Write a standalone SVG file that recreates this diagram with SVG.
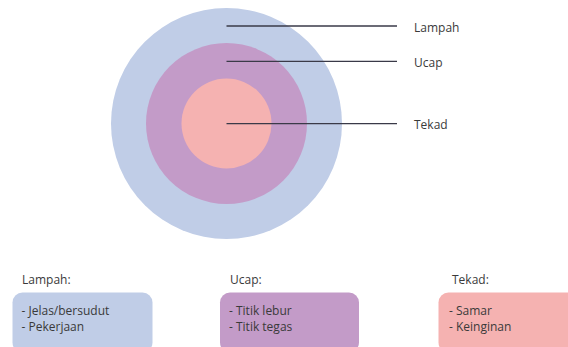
<svg xmlns="http://www.w3.org/2000/svg" width="568" height="347" viewBox="0 0 568 347">
<style>
text{font-family:"Open Sans","Liberation Sans",sans-serif;font-size:12px;fill:#3a3a3a}
.ln{stroke:#3a3a48;stroke-width:1.3}
.b{fill:#c0cde7}.p{fill:#c39bc8}.k{fill:#f5b2b1}
</style>
<rect width="568" height="347" fill="#fff"/>
<g id="circle-lampah"><circle class="b" cx="226.5" cy="123.5" r="115.5"/></g>
<g id="circle-ucap"><circle class="p" cx="226.5" cy="123.5" r="80.5"/></g>
<g id="circle-tekad"><circle class="k" cx="226.5" cy="123.5" r="45"/></g>
<g id="connectors">
<line class="ln" x1="226.5" y1="26" x2="397" y2="26"/>
<line class="ln" x1="226.5" y1="61.3" x2="397" y2="61.3"/>
<line class="ln" x1="226.5" y1="123.7" x2="397" y2="123.7"/>
</g>
<g id="label-lampah"><text x="414" y="32">Lampah</text></g>
<g id="label-ucap"><text x="414" y="67">Ucap</text></g>
<g id="label-tekad"><text x="414" y="129">Tekad</text></g>
<g id="box-lampah">
<text x="22" y="284">Lampah:</text>
<rect class="b" x="12.5" y="292.5" width="140" height="60" rx="10"/>
<text x="21.5" y="315">- Jelas/bersudut</text>
<text x="21.5" y="330.5">- Pekerjaan</text>
</g>
<g id="box-ucap">
<text x="230" y="284">Ucap:</text>
<rect class="p" x="220" y="292.5" width="139" height="60" rx="10"/>
<text x="229" y="315">- Titik lebur</text>
<text x="229" y="330.5">- Titik tegas</text>
</g>
<g id="box-tekad">
<text x="452" y="284">Tekad:</text>
<rect class="k" x="438.5" y="292.5" width="140" height="60" rx="10"/>
<text x="449" y="315">- Samar</text>
<text x="449" y="330.5">- Keinginan</text>
</g>
</svg>
